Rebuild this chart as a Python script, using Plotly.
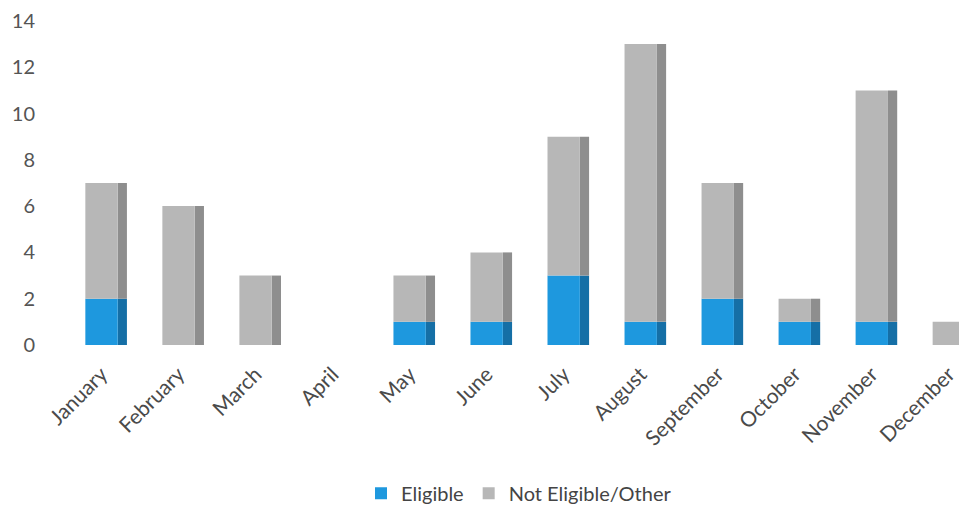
import plotly.graph_objects as go

months = ["January", "February", "March", "April", "May", "June",
          "July", "August", "September", "October", "November", "December"]
eligible = [2, 0, 0, 0, 1, 1, 3, 1, 2, 1, 1, 0]
not_eligible = [5, 6, 3, 0, 2, 3, 6, 12, 5, 1, 10, 1]

blue = "#1E98DE"
blue_side = "#156FA6"
grey = "#B7B7B7"
grey_side = "#8E8E8E"

bar_w = 0.42
side_w = 0.12

fig = go.Figure()

# side faces, drawn just right of the front faces to fake the 3d look
fig.add_trace(go.Bar(x=months, y=eligible, base=0, width=side_w, offset=bar_w / 2,
                     marker_color=blue_side, marker_line_width=0, showlegend=False,
                     hoverinfo="skip"))
fig.add_trace(go.Bar(x=months, y=not_eligible, base=eligible, width=side_w, offset=bar_w / 2,
                     marker_color=grey_side, marker_line_width=0, showlegend=False,
                     hoverinfo="skip"))

# front faces
fig.add_trace(go.Bar(x=months, y=eligible, base=0, width=bar_w, offset=-bar_w / 2,
                     name="Eligible", marker_color=blue, marker_line_width=0))
fig.add_trace(go.Bar(x=months, y=not_eligible, base=eligible, width=bar_w, offset=-bar_w / 2,
                     name="Not Eligible/Other", marker_color=grey, marker_line_width=0))

fig.update_layout(
    width=967, height=511,
    barmode="overlay",
    margin=dict(l=55, r=0, t=2, b=174),
    plot_bgcolor="white",
    paper_bgcolor="white",
    font=dict(family="Lato", color="#444444"),
    legend=dict(orientation="h", x=0.5, xanchor="center", y=-0.448, yanchor="middle",
                font=dict(size=20, color="#444444"), traceorder="normal"),
)
fig.update_xaxes(range=[-0.5, 11.34], tickangle=-45, tickfont=dict(size=21, color="#4a4a4a"),
                 showgrid=False, showline=False, ticks="", ticklabelstandoff=12)
fig.update_yaxes(range=[0, 14.3], tickvals=[0, 2, 4, 6, 8, 10, 12, 14],
                 tickfont=dict(size=20, color="#555555"), showgrid=False, zeroline=False,
                 showline=False, ticklabelstandoff=27, ticklabeloverflow="allow")

fig.write_html("out.html")
